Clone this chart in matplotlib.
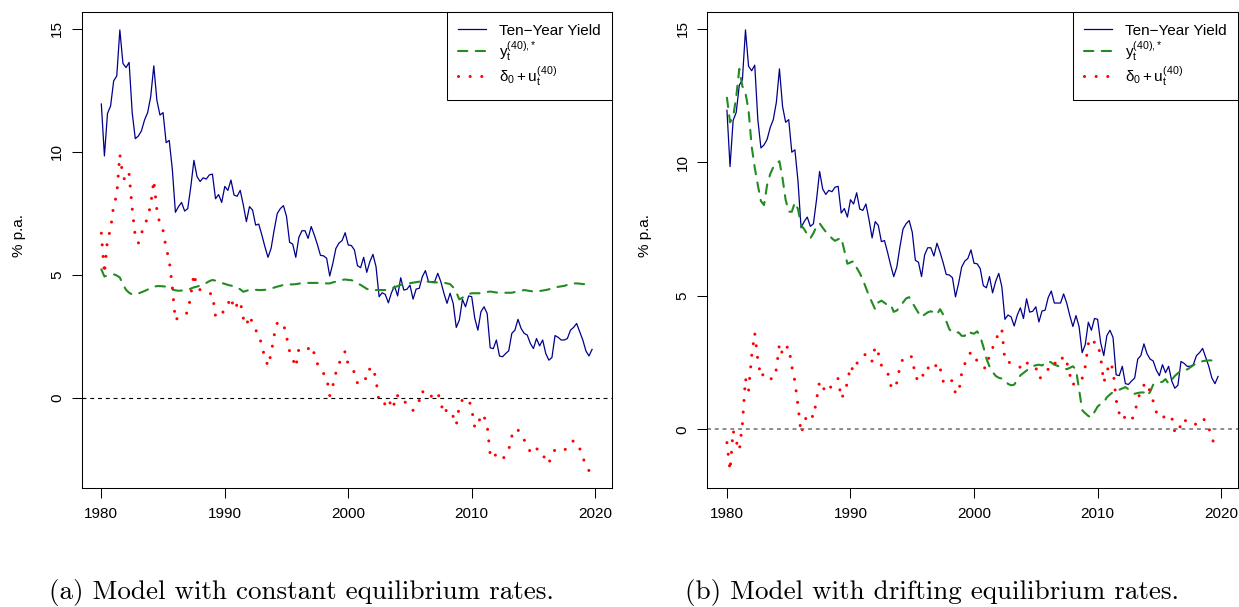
import numpy as np
import matplotlib
matplotlib.use("Agg")
import matplotlib.pyplot as plt

plt.rcParams["font.family"] = ["Liberation Sans", "DejaVu Sans"]
plt.rcParams["mathtext.fontset"] = "custom"
plt.rcParams["mathtext.rm"] = "Liberation Sans"
plt.rcParams["mathtext.it"] = "Liberation Sans:italic"
plt.rcParams["mathtext.default"] = "regular"

# quarterly observations, 1980Q1 - 2019Q4
quarters = 1980 + np.arange(160) / 4

ten_year = [
    11.95, 9.84, 11.57, 11.87, 12.89, 13.09, 14.96, 13.60, 13.43, 13.64,
    11.60, 10.54, 10.65, 10.86, 11.30, 11.60, 12.25, 13.50, 12.10, 11.50,
    11.60, 10.38, 10.47, 9.30, 7.55, 7.78, 7.95, 7.60, 7.70, 8.60,
    9.66, 9.00, 8.80, 8.95, 8.90, 9.07, 9.10, 8.10, 8.27, 7.95,
    8.60, 8.44, 8.86, 8.25, 8.20, 8.44, 7.85, 7.17, 7.78, 7.64,
    7.03, 7.07, 6.63, 6.15, 5.72, 6.08, 6.83, 7.50, 7.70, 7.82,
    7.38, 6.33, 6.26, 5.72, 6.53, 6.80, 6.80, 6.49, 6.97, 6.63,
    6.24, 5.80, 5.78, 5.68, 4.96, 5.47, 6.08, 6.30, 6.40, 6.72,
    6.22, 6.20, 6.02, 5.38, 5.30, 5.72, 5.11, 5.54, 5.84, 5.34,
    4.12, 4.28, 4.21, 3.87, 4.28, 4.55, 4.15, 4.89, 4.39, 4.42,
    4.59, 4.02, 4.43, 4.46, 4.93, 5.18, 4.73, 4.73, 4.73, 5.07,
    4.73, 4.26, 3.85, 4.26, 3.85, 2.87, 3.17, 4.01, 3.71, 4.15,
    4.12, 3.24, 2.76, 3.51, 3.71, 3.44, 2.04, 2.01, 2.36, 1.71,
    1.68, 1.81, 1.92, 2.63, 2.76, 3.20, 2.83, 2.63, 2.56, 2.22,
    2.01, 2.42, 2.12, 2.36, 1.81, 1.54, 1.65, 2.54, 2.47, 2.36,
    2.36, 2.42, 2.76, 2.87, 3.03, 2.69, 2.36, 1.92, 1.71, 1.98,
]

# model (a): constant equilibrium rates
star_const = [
    5.23, 4.94, 4.98, 5.00, 5.03, 4.98, 4.90, 4.62, 4.40, 4.28,
    4.21, 4.22, 4.25, 4.30, 4.35, 4.41, 4.46, 4.52, 4.55, 4.55,
    4.54, 4.53, 4.47, 4.41, 4.38, 4.36, 4.37, 4.38, 4.39, 4.45,
    4.50, 4.53, 4.57, 4.60, 4.68, 4.75, 4.80, 4.77, 4.73, 4.68,
    4.64, 4.60, 4.57, 4.54, 4.50, 4.42, 4.32, 4.36, 4.40, 4.41,
    4.40, 4.39, 4.39, 4.40, 4.41, 4.45, 4.49, 4.53, 4.56, 4.60,
    4.62, 4.62, 4.62, 4.63, 4.65, 4.68, 4.68, 4.68, 4.68, 4.68,
    4.68, 4.68, 4.67, 4.66, 4.66, 4.70, 4.73, 4.76, 4.80, 4.82,
    4.80, 4.79, 4.75, 4.66, 4.60, 4.52, 4.44, 4.39, 4.39, 4.39,
    4.39, 4.39, 4.39, 4.39, 4.45, 4.50, 4.55, 4.60, 4.63, 4.65,
    4.67, 4.69, 4.71, 4.73, 4.75, 4.75, 4.73, 4.71, 4.70, 4.70,
    4.69, 4.69, 4.66, 4.63, 4.50, 4.30, 4.01, 4.08, 4.15, 4.22,
    4.26, 4.26, 4.26, 4.26, 4.28, 4.31, 4.33, 4.31, 4.29, 4.28,
    4.28, 4.28, 4.28, 4.28, 4.31, 4.33, 4.36, 4.39, 4.37, 4.35,
    4.33, 4.33, 4.35, 4.37, 4.39, 4.42, 4.46, 4.50, 4.52, 4.54,
    4.56, 4.60, 4.63, 4.66, 4.66, 4.65, 4.63, 4.63, 4.63, 4.62,
]
spread_const = [
    6.70, 5.05, 6.45, 6.85, 7.85, 8.25, 9.90, 9.00, 8.80, 9.10,
    7.70, 6.55, 6.30, 6.70, 7.00, 7.35, 7.85, 8.85, 7.65, 7.05,
    6.80, 6.10, 5.60, 4.50, 3.15, 3.30, 3.40, 3.42, 3.47, 4.20,
    5.05, 4.50, 4.40, 4.30, 4.28, 4.25, 4.23, 3.33, 3.28, 3.35,
    3.70, 3.80, 4.10, 3.60, 3.80, 3.95, 3.25, 2.95, 3.35, 3.05,
    2.75, 2.65, 2.10, 1.65, 1.30, 1.80, 2.55, 3.05, 3.10, 3.02,
    2.50, 1.90, 1.60, 1.25, 2.00, 1.97, 1.95, 2.00, 2.13, 1.80,
    1.40, 1.15, 1.00, 0.85, 0.10, 0.50, 1.03, 1.40, 1.65, 1.90,
    1.35, 1.20, 1.05, 0.60, 0.80, 0.82, 0.77, 1.20, 1.26, 0.75,
    -0.18, -0.15, -0.25, -0.42, 0.00, -0.30, 0.10, 0.12, -0.10, -0.25,
    -0.30, -0.50, -0.30, -0.10, 0.30, 0.05, 0.05, 0.08, 0.10, 0.24,
    -0.20, -0.65, -0.45, -0.50, -0.75, -1.10, -0.30, -0.07, -0.05, -0.03,
    -0.45, -1.20, -1.15, -0.65, -0.75, -1.10, -2.30, -2.15, -2.40, -2.50,
    -2.50, -2.30, -2.10, -1.55, -1.25, -1.30, -1.45, -1.70, -1.90, -2.20,
    -2.00, -2.05, -2.17, -2.20, -2.63, -2.65, -2.30, -2.10, -2.05, -2.10,
    -2.10, -2.05, -1.90, -1.72, -1.90, -2.05, -2.40, -2.75, -2.95, -2.80,
]

# model (b): drifting equilibrium rates
star_drift = [
    12.42, 11.50, 11.70, 12.45, 13.50, 12.85, 12.60, 11.95, 10.60, 9.80,
    9.15, 8.55, 8.40, 9.15, 9.56, 9.82, 9.98, 10.04, 9.40, 8.60,
    8.15, 8.15, 8.50, 8.25, 7.65, 7.50, 7.30, 7.15, 7.35, 7.60,
    7.72, 7.55, 7.40, 7.28, 7.15, 7.06, 7.12, 7.18, 6.70, 6.20,
    6.25, 6.30, 6.05, 5.85, 5.60, 5.30, 5.00, 4.74, 4.49, 4.75,
    4.82, 4.74, 4.65, 4.67, 4.40, 4.45, 4.60, 4.75, 4.90, 4.95,
    4.75, 4.55, 4.36, 4.20, 4.30, 4.38, 4.42, 4.38, 4.30, 4.50,
    4.30, 4.05, 3.75, 3.62, 3.62, 3.63, 3.50, 3.50, 3.68, 3.61,
    3.58, 3.67, 3.48, 3.10, 2.65, 2.35, 2.15, 2.00, 1.93, 1.90,
    1.86, 1.70, 1.65, 1.67, 1.85, 2.02, 2.11, 2.20, 2.28, 2.36,
    2.40, 2.42, 2.39, 2.48, 2.56, 2.50, 2.42, 2.38, 2.33, 2.30,
    2.25, 2.30, 2.36, 2.24, 1.50, 0.72, 0.60, 0.50, 0.44, 0.65,
    0.85, 0.95, 1.00, 1.20, 1.30, 1.40, 1.44, 1.48, 1.53, 1.58,
    1.50, 1.40, 1.33, 1.36, 1.38, 1.38, 1.25, 1.40, 1.67, 1.72,
    1.75, 1.78, 1.88, 1.70, 1.85, 2.00, 2.10, 2.20, 2.24, 2.24,
    2.32, 2.40, 2.48, 2.53, 2.55, 2.57, 2.58, 2.58, 2.58, 2.60,
]
spread_drift = [
    -0.50, -1.55, -0.05, -0.45, -0.80, 0.20, 1.90, 1.45, 2.75, 3.60,
    2.60, 1.95, 2.10, 1.93, 1.90, 1.88, 2.25, 3.20, 2.80, 3.05,
    3.10, 2.35, 1.80, 0.90, -0.15, 0.20, 0.60, 0.55, 0.45, 1.10,
    1.80, 1.60, 1.38, 1.45, 1.68, 1.85, 1.90, 1.15, 1.35, 1.75,
    2.38, 2.18, 2.47, 2.55, 2.67, 2.85, 2.70, 2.55, 3.10, 2.85,
    2.40, 2.25, 2.15, 1.65, 1.50, 1.75, 2.35, 2.65, 2.75, 2.76,
    2.70, 1.95, 1.85, 1.80, 2.32, 2.30, 2.28, 2.20, 2.50, 2.30,
    1.80, 1.85, 1.95, 1.78, 1.35, 1.35, 2.10, 2.45, 2.70, 2.90,
    2.75, 2.56, 2.42, 2.30, 2.30, 2.78, 3.05, 3.25, 3.70, 3.75,
    2.55, 2.53, 2.47, 2.43, 2.38, 2.32, 2.27, 2.50, 2.40, 2.32,
    2.32, 1.90, 1.96, 2.15, 2.25, 2.50, 2.50, 2.40, 2.55, 2.75,
    2.52, 2.05, 1.65, 1.85, 1.87, 1.90, 2.35, 3.20, 3.42, 3.25,
    3.25, 2.70, 1.75, 2.15, 2.50, 2.25, 1.10, 0.60, 0.70, 0.35,
    0.32, 0.33, 0.60, 1.10, 1.45, 1.65, 1.75, 1.40, 1.05, 0.65,
    0.45, 0.40, 0.54, 0.54, 0.45, -0.10, -0.15, 0.20, 0.40, 0.23,
    0.20, 0.17, 0.20, 0.30, 0.42, 0.30, 0.05, -0.30, -0.65, -0.80,
]

year_ticks = [1980, 1990, 2000, 2010, 2020]
rate_ticks = [0, 5, 10, 15]
captions = ["(a) Model with constant equilibrium rates.",
            "(b) Model with drifting equilibrium rates."]

W, H = 1239, 607
fig = plt.figure(figsize=(W / 100, H / 100), dpi=100)


def pixel_axes(x0, x1, y0, y1):
    return fig.add_axes([x0 / W, 1 - y1 / H, (x1 - x0) / W, (y1 - y0) / H])


def padded(lo, hi):
    # same 4% extension that R applies to its plot ranges
    pad = 0.04 * (hi - lo)
    return lo - pad, hi + pad


def panel(ax, star, spread, zero_color, zero_lw):
    ax.plot(quarters, ten_year, color="darkblue", lw=0.9,
            label="Ten\u2212Year Yield")
    ax.plot(quarters, star, color="forestgreen", lw=1.5,
            linestyle=(0, (4.5, 4)), dash_capstyle="round",
            label=r"$y_t^{(40),\!*}$")
    ax.plot(quarters, spread, color="red", lw=2.2,
            linestyle=(0, (0.01, 3.8)), dash_capstyle="round",
            label=r"$\delta_0 + u_t^{(40)}$")
    ax.axhline(0, color=zero_color, lw=zero_lw,
               linestyle=(0, (2.8 / zero_lw, 2.8 / zero_lw)))

    ax.set_xlim(padded(quarters[0], quarters[-1]))
    everything = ten_year + star + spread
    ax.set_ylim(padded(min(everything), max(everything)))
    ax.set_xticks(year_ticks)
    ax.set_yticks(rate_ticks)
    ax.tick_params(direction="out", length=7.2, width=0.75,
                   labelsize=11, top=False, right=False)
    ax.tick_params(axis="x", pad=6.5)
    ax.tick_params(axis="y", pad=5.5)
    for lab in ax.get_yticklabels():
        lab.set_rotation(90)
        lab.set_va("center")
    for sp in ax.spines.values():
        sp.set_linewidth(0.75)
    ax.set_ylabel("% p.a.", fontsize=11)
    ax.yaxis.set_label_coords(-0.105, 0.53)

    leg = ax.legend(loc="upper right", borderaxespad=0, fancybox=False,
                    edgecolor="black", framealpha=1, fontsize=11,
                    handlelength=1.85, handletextpad=0.8, borderpad=0.75,
                    labelspacing=0.12)
    leg.get_frame().set_linewidth(0.75)


ax_a = pixel_axes(81.7, 611.7, 12.3, 488.3)
panel(ax_a, star_const, spread_const, "black", 0.8)
ax_b = pixel_axes(707.3, 1237.7, 12.3, 488.3)
panel(ax_b, star_drift, spread_drift, "#6e6e6e", 1.1)

for xc, text in zip([301, 932], captions):
    fig.text(xc / W, 1 - 593 / H, text, family="cmr10", fontsize=19.5,
             ha="center", va="center")

fig.savefig("out.png", dpi=100)
